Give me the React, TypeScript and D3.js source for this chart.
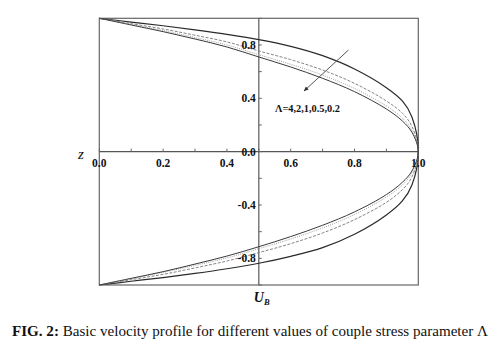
import React from 'react';
import * as d3 from 'd3';

// Basic velocity U_B (x) along the channel height z (y)
const uValues = [0, 0.1, 0.2, 0.3, 0.4, 0.5, 0.6, 0.7, 0.8, 0.9, 0.95, 0.98, 1];

// upper half (z > 0)
const zTopA = [1, 0.972, 0.944, 0.913, 0.879, 0.84, 0.79, 0.72, 0.62, 0.48, 0.38, 0.26, 0];
const zTopB = [1, 0.96, 0.92, 0.873, 0.823, 0.755, 0.69, 0.612, 0.512, 0.38, 0.288, 0.19, 0];
const zTopC = [1, 0.954, 0.908, 0.856, 0.8, 0.727, 0.655, 0.574, 0.474, 0.342, 0.252, 0.16, 0];
const zTopD = [1, 0.95, 0.9, 0.845, 0.785, 0.71, 0.635, 0.55, 0.45, 0.32, 0.23, 0.145, 0];

// lower half (z < 0)
const zBotA = [-1, -0.972, -0.944, -0.913, -0.878, -0.837, -0.785, -0.72, -0.62, -0.475, -0.37, -0.25, 0];
const zBotB = [-1, -0.96, -0.92, -0.872, -0.82, -0.757, -0.69, -0.61, -0.51, -0.38, -0.285, -0.19, 0];
const zBotC = [-1, -0.953, -0.905, -0.853, -0.797, -0.728, -0.655, -0.572, -0.472, -0.34, -0.25, -0.16, 0];
const zBotD = [-1, -0.95, -0.9, -0.843, -0.783, -0.713, -0.637, -0.552, -0.452, -0.322, -0.23, -0.145, 0];

const xTickLabels = ['0.0', '0.2', '0.4', '0.6', '0.8', '1.0'];
const yTickLabels = ['0.8', '0.4', '0.0', '-0.4', '-0.8'];
const lambdaLabel = 'Λ=4,2,1,0.5,0.2';

const series = [
  { top: zTopA, bot: zBotA, stroke: '#2a2a2a', width: 1.2, dash: '' },
  { top: zTopB, bot: zBotB, stroke: '#858585', width: 1, dash: '3,1.5' },
  { top: zTopC, bot: zBotC, stroke: '#a0a0a0', width: 1, dash: '1,1.2' },
  { top: zTopD, bot: zBotD, stroke: '#3a3a3a', width: 1, dash: '' },
];

const FONT = '"Liberation Serif", "DejaVu Serif", serif';

export default function App() {
  const x = d3.scaleLinear().domain([0, 1]).range([99.3, 418.3]);
  const y = d3.scaleLinear().domain([-1, 1]).range([285, 18.3]);

  const line = d3
    .line<[number, number]>()
    .x((d) => x(d[0]))
    .y((d) => y(d[1]))
    .curve(d3.curveCatmullRom.alpha(0.5));

  const buildPts = (top: number[], bot: number[]): [number, number][] => {
    const pts: [number, number][] = [];
    uValues.forEach((u, i) => pts.push([u, top[i]]));
    for (let i = uValues.length - 2; i >= 0; i--) pts.push([uValues[i], bot[i]]);
    return pts;
  };

  const minorX = d3.range(0, 11).map((i) => i / 10);
  const minorY = d3.range(-5, 6).map((i) => i / 5);

  return (
    <svg
      width={503}
      height={357}
      style={{ position: 'absolute', left: 0, top: 0, background: '#fff' }}
      fontFamily={FONT}
    >
      <rect x={0} y={0} width={503} height={357} fill="#fff" />
      {/* frame */}
      <rect
        x={x(0)}
        y={y(1)}
        width={x(1) - x(0)}
        height={y(-1) - y(1)}
        fill="none"
        stroke="#666"
        strokeWidth={1.2}
      />
      {/* axes */}
      <line x1={x(0)} x2={x(1)} y1={y(0)} y2={y(0)} stroke="#555" strokeWidth={1.3} />
      <line x1={x(0.5)} x2={x(0.5)} y1={y(1)} y2={y(-1)} stroke="#666" strokeWidth={1.3} />

      {/* x ticks */}
      {minorX.map((v, i) => (
        <line key={'xt' + i} x1={x(v)} x2={x(v)} y1={y(0)} y2={y(0) - 3} stroke="#666" strokeWidth={1} />
      ))}
      {/* y ticks */}
      {minorY.map((v, i) => (
        <line key={'yt' + i} x1={x(0.5)} x2={x(0.5) + 3} y1={y(v)} y2={y(v)} stroke="#666" strokeWidth={1} />
      ))}

      {/* curves */}
      {series.map((s, i) => (
        <path
          key={'c' + i}
          d={line(buildPts(s.top, s.bot)) || ''}
          fill="none"
          stroke={s.stroke}
          strokeWidth={s.width}
          strokeDasharray={s.dash || undefined}
        />
      ))}

      {/* x tick labels */}
      {xTickLabels.map((t) => (
        <text
          key={'xl' + t}
          x={x(+t)}
          y={y(0) + 15}
          textAnchor="middle"
          fontSize={11.5}
          fontWeight="bold"
          fill="#111"
        >
          {t}
        </text>
      ))}
      {/* y tick labels */}
      {yTickLabels.map((t) => (
        <text
          key={'yl' + t}
          x={x(0.5) - 3}
          y={y(+t)}
          dy="0.35em"
          textAnchor="end"
          fontSize={11.5}
          fontWeight="bold"
          fill="#111"
        >
          {t}
        </text>
      ))}

      {/* axis labels */}
      <text x={78} y={159} fontSize={15} fontStyle="italic" fill="#111">
        z
      </text>
      <text x={x(0.5) - 5} y={302} fontSize={14} fontStyle="italic" fontWeight="bold" fill="#111">
        U
        <tspan fontSize={8.5} dy={3}>
          B
        </tspan>
      </text>

      {/* lambda annotation */}
      <defs>
        <marker id="ah" viewBox="0 0 10 10" refX={9} refY={5} markerWidth={5} markerHeight={5} orient="auto">
          <path d="M0,1 L10,5 L0,9 Z" fill="#333" />
        </marker>
      </defs>
      <line x1={348.5} y1={50} x2={304} y2={91} stroke="#555" strokeWidth={1} markerEnd="url(#ah)" />
      <text x={275} y={112} fontSize={11} fontWeight="bold" fill="#111" textLength={65} lengthAdjust="spacingAndGlyphs">
        {lambdaLabel}
      </text>

      {/* caption */}
      <text x={12} y={336} fontSize={14} fill="#111" textLength={476} lengthAdjust="spacingAndGlyphs">
        <tspan fontWeight="bold">FIG. 2:</tspan>
        <tspan> Basic velocity profile for different values of couple stress parameter Λ</tspan>
      </text>
    </svg>
  );
}
